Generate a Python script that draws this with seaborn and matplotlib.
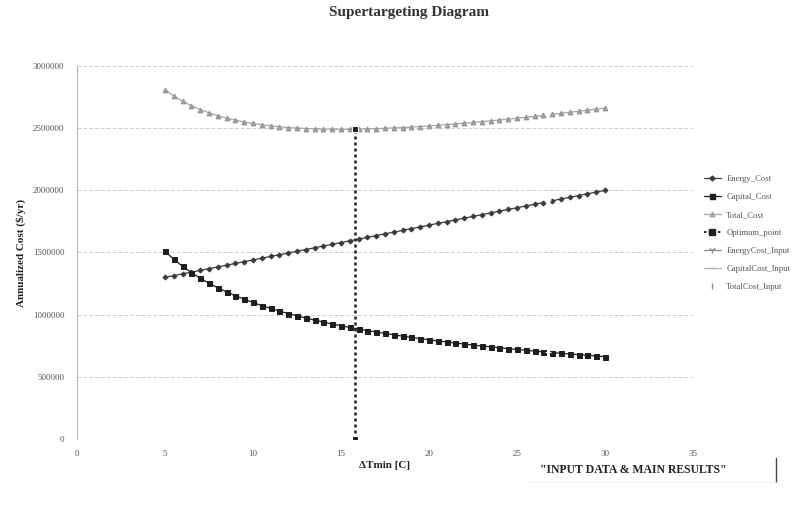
import matplotlib
matplotlib.use("Agg")
import matplotlib.pyplot as plt
from matplotlib.lines import Line2D
import seaborn as sns
import pandas as pd

# ---------------- data ----------------
dTmin = [5, 5.5, 6, 6.5, 7, 7.5, 8, 8.5, 9, 9.5, 10, 10.5, 11, 11.5, 12, 12.5,
         13, 13.5, 14, 14.5, 15, 15.5, 16, 16.5, 17, 17.5, 18, 18.5, 19, 19.5,
         20, 20.5, 21, 21.5, 22, 22.5, 23, 23.5, 24, 24.5, 25, 25.5, 26, 26.5,
         27, 27.5, 28, 28.5, 29, 29.5, 30]
energy_cost = [1300000, 1314000, 1328000, 1342000, 1356000, 1370000, 1384000,
               1398000, 1412000, 1426000, 1440000, 1454000, 1468000, 1482000,
               1496000, 1510000, 1524000, 1538000, 1552000, 1566000, 1580000,
               1594000, 1608000, 1622000, 1636000, 1650000, 1664000, 1678000,
               1692000, 1706000, 1720000, 1734000, 1748000, 1762000, 1776000,
               1790000, 1804000, 1818000, 1832000, 1846000, 1860000, 1874000,
               1888000, 1902000, 1916000, 1930000, 1944000, 1958000, 1972000,
               1986000, 2000000]
capital_cost = [1510000, 1445000, 1389000, 1338000, 1294000, 1253000, 1216000,
                1183000, 1152000, 1124000, 1098000, 1073000, 1051000, 1029000,
                1009000, 991000, 973000, 956000, 940000, 925000, 911000,
                897000, 884000, 872000, 860000, 849000, 838000, 827000,
                817000, 807000, 798000, 789000, 780000, 772000, 764000,
                756000, 748000, 741000, 734000, 727000, 720000, 714000,
                707000, 701000, 695000, 689000, 684000, 678000, 673000,
                667000, 662000]
total_cost = [2810000, 2759000, 2717000, 2680000, 2650000, 2623000, 2600000,
              2581000, 2564000, 2550000, 2538000, 2527000, 2519000, 2511000,
              2505000, 2501000, 2497000, 2494000, 2492000, 2491000, 2491000,
              2491000, 2492000, 2494000, 2496000, 2499000, 2502000, 2505000,
              2509000, 2513000, 2518000, 2523000, 2528000, 2534000, 2540000,
              2546000, 2552000, 2559000, 2566000, 2573000, 2580000, 2588000,
              2595000, 2603000, 2611000, 2619000, 2628000, 2636000, 2645000,
              2653000, 2662000]
segment = [1] * 44 + [2] * 7   # the curves have a break between 26.5 and 27

optimum_x = [15.8, 15.8]
optimum_y = [0, 2491000]

input_x = [26.75]
energy_input = [1909000]
capital_input = [698000]
total_input = [2607000]

y_ticks = [0, 500000, 1000000, 1500000, 2000000, 2500000, 3000000]
x_ticks = [0, 5, 10, 15, 20, 25, 30, 35]

# ---------------- figure ----------------
sns.set_theme(style="white")
serif = ["Liberation Serif", "DejaVu Serif"]
plt.rcParams["font.family"] = serif

fig = plt.figure(figsize=(8.02, 5.12), dpi=100)
ax = fig.add_axes([0.096, 0.1426, 0.768, 0.7285])

df = pd.DataFrame({"dT": dTmin, "E": energy_cost, "C": capital_cost,
                   "T": total_cost, "seg": segment})
df_opt = pd.DataFrame({"dT": optimum_x, "y": optimum_y})
df_in = pd.DataFrame({"dT": input_x, "E": energy_input, "C": capital_input,
                      "T": total_input})

common = dict(estimator=None, units="seg", ax=ax, legend=False)
sns.lineplot(data=df, x="dT", y="E", color="#3a3a3a", marker="D",
             markersize=2.5, markeredgecolor="#3a3a3a", linewidth=0.9, **common)
sns.lineplot(data=df, x="dT", y="C", color="#1e1e1e", marker="s",
             markersize=3.6, markeredgecolor="#1e1e1e", linewidth=0.9, **common)
sns.lineplot(data=df, x="dT", y="T", color="#a5a5a5", marker="^",
             markersize=3.4, markeredgecolor="#909090", linewidth=0.9, **common)
sns.lineplot(data=df_opt, x="dT", y="y", color="#202020", marker="s",
             markersize=5, linestyle=(0, (1.2, 1.2)), linewidth=1.8,
             estimator=None, sort=False, ax=ax, legend=False)
sns.lineplot(data=df_in, x="dT", y="E", color="#8a8a8a", marker="1",
             markersize=5, estimator=None, ax=ax, legend=False)
sns.lineplot(data=df_in, x="dT", y="C", color="#b0b0b0", marker="_",
             markersize=5, estimator=None, ax=ax, legend=False)
sns.lineplot(data=df_in, x="dT", y="T", color="#8a8a8a", marker="|",
             markersize=6, estimator=None, ax=ax, legend=False)

ax.set_xlim(0, 35)
ax.set_ylim(0, 3000000)
ax.set_xticks(x_ticks)
ax.set_yticks(y_ticks)
ax.set_xticklabels([str(t) for t in x_ticks])
ax.set_yticklabels([str(t) for t in y_ticks])
ax.tick_params(axis="both", labelsize=6.5, colors="#555555", length=0, pad=8)
ax.tick_params(axis="y", length=3, color="#aaaaaa", direction="out", pad=6)

ax.grid(axis="y", color="#cfcfcf", linestyle=(0, (4, 2)), linewidth=0.7)
ax.grid(axis="x", visible=False)
for s in ["top", "right", "bottom"]:
    ax.spines[s].set_visible(False)
ax.spines["left"].set_color("#b5b5b5")
ax.spines["left"].set_linewidth(0.8)

ax.set_xlabel("ΔTmin [C]", fontsize=8, fontweight="bold", color="#222222",
              labelpad=2)
ax.set_ylabel("Annualized Cost ($/yr)", fontsize=8, fontweight="bold",
              color="#222222", labelpad=5)
fig.text(0.51, 0.975, "Supertargeting Diagram", ha="center", va="center",
         fontsize=11, fontweight="bold", color="#333333")

handles = [
    Line2D([], [], color="#3a3a3a", marker="D", markersize=2.5, lw=0.9),
    Line2D([], [], color="#1e1e1e", marker="s", markersize=3.6, lw=0.9),
    Line2D([], [], color="#a5a5a5", marker="^", markersize=3.4, lw=0.9),
    Line2D([], [], color="#202020", marker="s", markersize=4.5,
           linestyle=(0, (1.2, 1.2)), lw=1.4),
    Line2D([], [], color="#8a8a8a", marker="1", markersize=5, lw=0.9),
    Line2D([], [], color="#b0b0b0", marker="_", markersize=5, lw=0.9),
    Line2D([], [], color="#8a8a8a", marker="|", markersize=5, lw=0),
]
labels = ["Energy_Cost", "Capital_Cost", "Total_Cost", "Optimum_point",
          "EnergyCost_Input", "CapitalCost_Input", "TotalCost_Input"]
leg = ax.legend(handles, labels, loc="upper left",
                bbox_to_anchor=(0.868, 0.673), bbox_transform=fig.transFigure,
                frameon=False, fontsize=6.2, handlelength=2.0,
                labelspacing=1.15, handletextpad=0.6)
for t in leg.get_texts():
    t.set_color("#555555")

fig.text(0.79, 0.082, "\"INPUT DATA & MAIN RESULTS\"", ha="center",
         va="center", fontsize=8.5, fontweight="bold", color="#222222")
fig.add_artist(Line2D([0.967, 0.967], [0.058, 0.105], color="#444444",
                      lw=1.0, transform=fig.transFigure))
fig.add_artist(Line2D([0.655, 0.967], [0.058, 0.058], color="#eeeeee",
                      lw=0.6, transform=fig.transFigure))

fig.savefig("out.png", dpi=100, facecolor="white")
